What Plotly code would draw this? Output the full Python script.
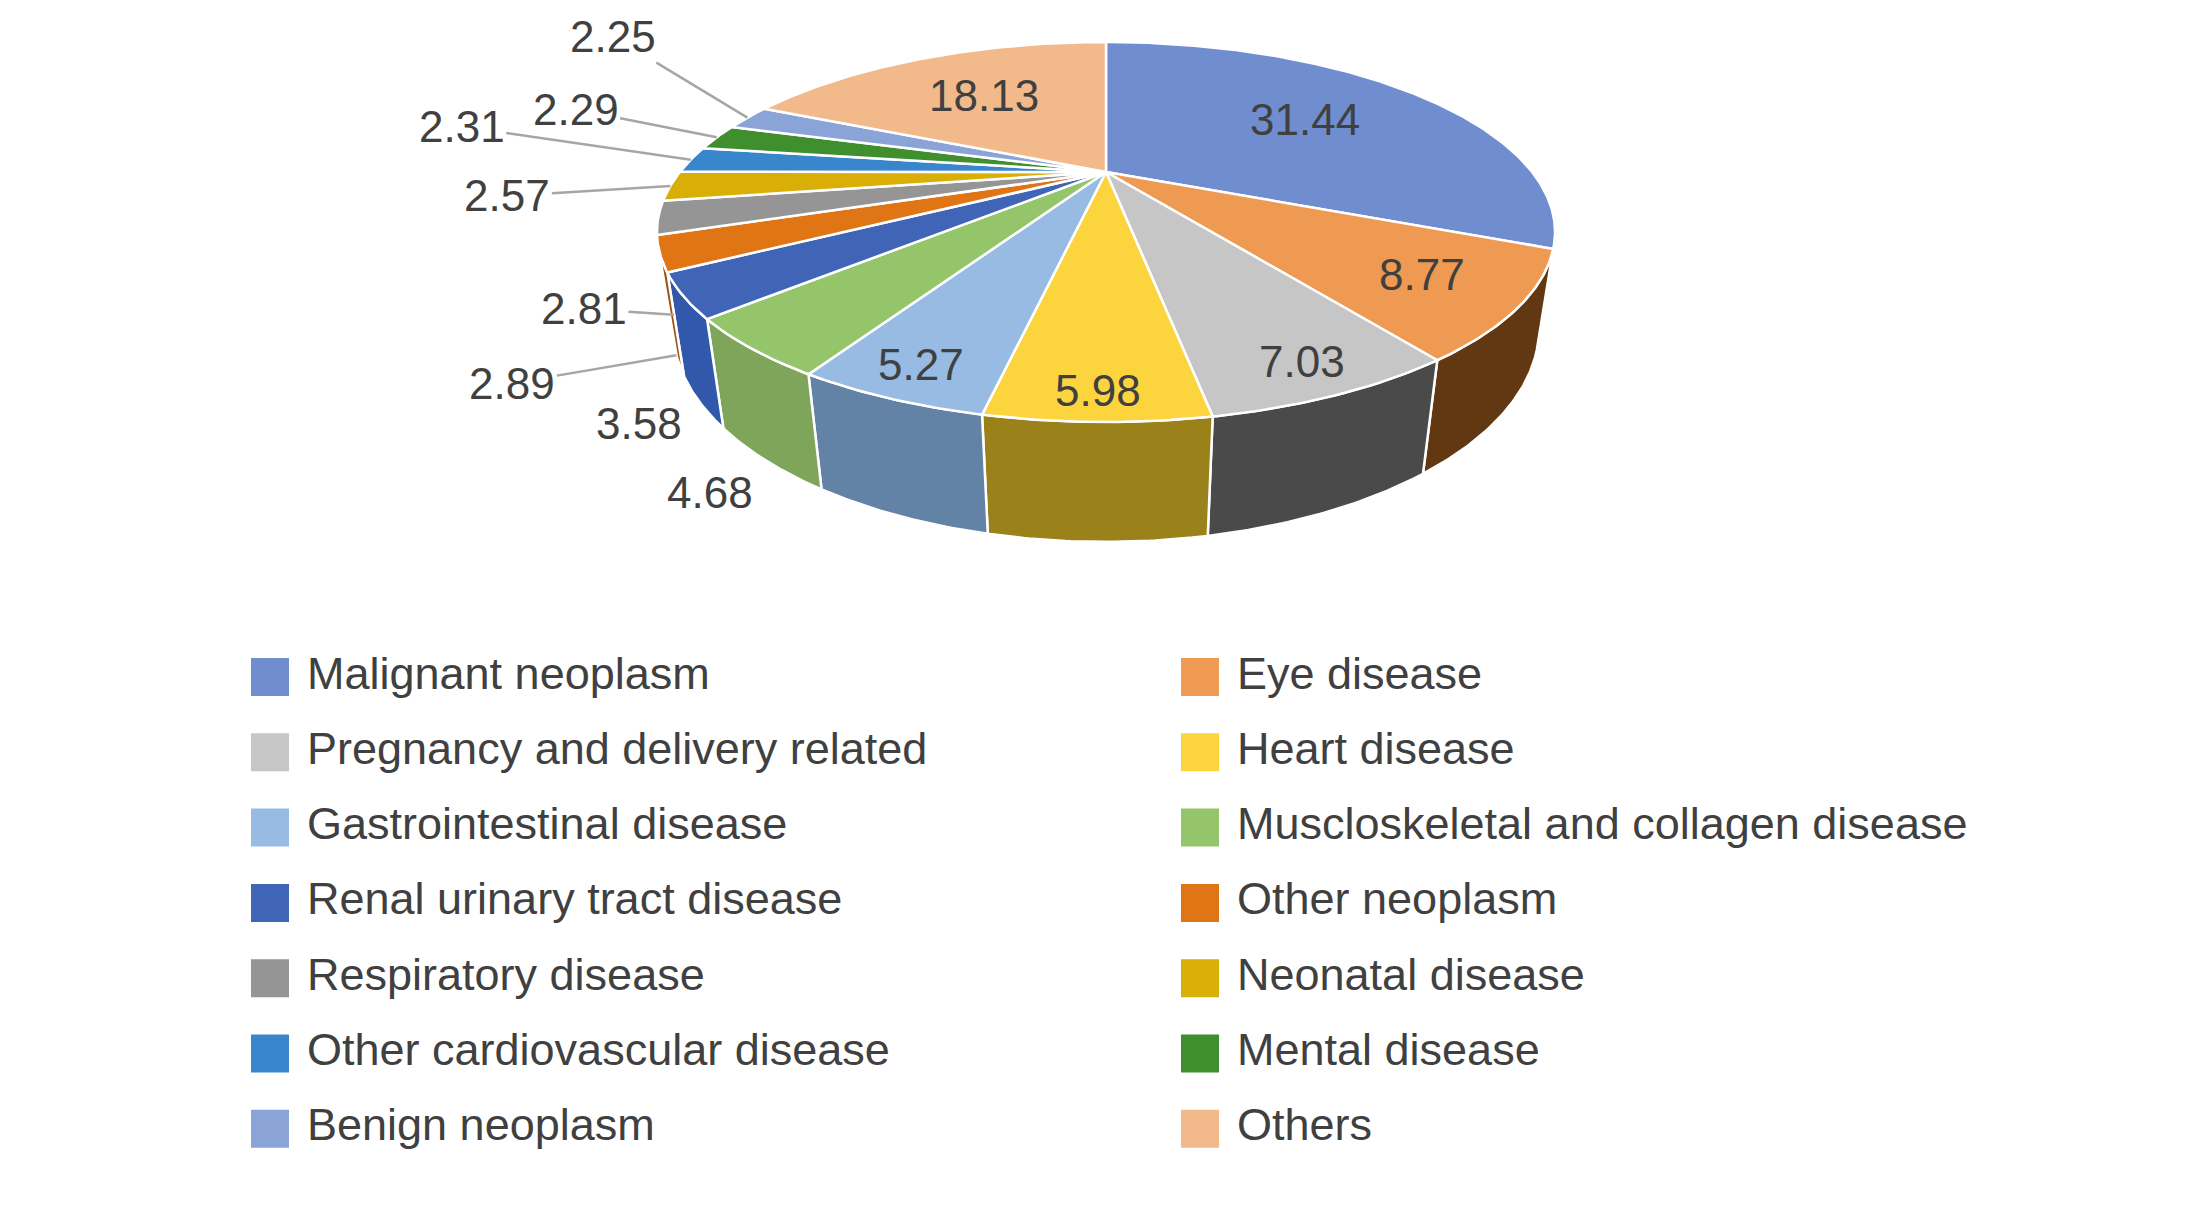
import numpy as np
import plotly.graph_objects as go

# data
categories = ["Malignant neoplasm", "Eye disease", "Pregnancy and delivery related",
              "Heart disease", "Gastrointestinal disease", "Muscloskeletal and collagen disease",
              "Renal urinary tract disease", "Other neoplasm", "Respiratory disease",
              "Neonatal disease", "Other cardiovascular disease", "Mental disease",
              "Benign neoplasm", "Others"]
values = [31.44, 8.77, 7.03, 5.98, 5.27, 4.68, 3.58, 2.89, 2.81, 2.57, 2.31, 2.29, 2.25, 18.13]

top_colors = ["#6f8dcf", "#ee9a52", "#c6c6c6", "#fbd43e", "#97bbe3", "#95c56b",
              "#4065b6", "#e07516", "#959595", "#d9ae06", "#3a86cc", "#408f2e",
              "#8ba4d8", "#f2b98a"]
side_colors = ["#2f4c85", "#623812", "#4a4a4a", "#9a8119", "#6283a6", "#7ea55a",
               "#3158aa", "#a04f0c", "#666666", "#9a7c06", "#2a5f92", "#2c6420",
               "#6276a0", "#b08560"]

# label placement: inside the top face, below the side, or with a leader line
label_mode = ["in", "in", "in", "in", "in", "below", "below", "bottom", "bottom",
              "top", "top", "top", "top", "in"]
leader_offsets = {7: (-164, 28), 8: (-90, -6), 9: (-163, 10), 10: (-229, -33),
                  11: (-141, -28), 12: (-134, -81)}

# 3-D view of the pie, in page pixels
CX, CY = 1106, 172
F = 1236
DIST = 2.901
TILT = np.radians(23.67)
DEPTH = 0.242

PAGE_PAD = 8  # the html body margin
FONT = "Liberation Sans, Arial, sans-serif"
TXT = "#404040"


def project(X, Y, Z):
    s, c = np.sin(TILT), np.cos(TILT)
    yv = Y * s + Z * c
    d = Y * c - Z * s
    w = DIST + d
    return CX + F * X / w, CY - F * yv / w


def rim(a0, a1, z, r=1.0):
    n = max(3, int(abs(a0 - a1) * 2))
    t = np.radians(np.linspace(a0, a1, n))
    return project(r * np.cos(t), r * np.sin(t), np.full(n, z))


fig = go.Figure()

total = sum(values)
spans = [360 * v / total for v in values]
starts = 90 - np.concatenate([[0], np.cumsum(spans)[:-1]])
ends = starts - np.array(spans)

# visible part of the outer wall
lim = np.degrees(np.arcsin(-1 / (DIST * np.cos(TILT))))
vis_hi, vis_lo = lim, -180 - lim

# side walls
for i in range(len(values)):
    hi = min(starts[i], vis_hi)
    lo = max(ends[i], vis_lo)
    if hi <= lo:
        continue
    tx, ty = rim(hi, lo, 0)
    bx, by = rim(lo, hi, -DEPTH)
    fig.add_trace(go.Scatter(
        x=np.concatenate([tx, bx, tx[:1]]), y=np.concatenate([ty, by, ty[:1]]),
        mode="lines", fill="toself", fillcolor=side_colors[i],
        line=dict(color="white", width=2.5), hoverinfo="skip", showlegend=False))

# top face
for i in range(len(values)):
    rx, ry = rim(starts[i], ends[i], 0)
    ax0, ay0 = project(0, 0, 0)
    fig.add_trace(go.Scatter(
        x=np.concatenate([[ax0], rx, [ax0]]), y=np.concatenate([[ay0], ry, [ay0]]),
        mode="lines", fill="toself", fillcolor=top_colors[i],
        line=dict(color="white", width=2.5), hoverinfo="skip", showlegend=False))

# value labels
for i, v in enumerate(values):
    mid = np.radians((starts[i] + ends[i]) / 2)
    mode = label_mode[i]
    txt = f"{v:.2f}"
    if mode == "in":
        r = 0.62 + 0.29 * max(0, -np.sin(mid))
        x, y = project(r * np.cos(mid), r * np.sin(mid), 0)
        fig.add_annotation(x=x, y=y, text=txt, showarrow=False,
                           font=dict(family=FONT, size=44, color=TXT))
    elif mode == "below":
        x, y = project(1.12 * np.cos(mid), 1.12 * np.sin(mid), -DEPTH)
        fig.add_annotation(x=x, y=y, text=txt, showarrow=False,
                           font=dict(family=FONT, size=44, color=TXT))
    else:
        z = 0 if mode == "top" else -DEPTH
        x, y = project(np.cos(mid), np.sin(mid), z)
        dx, dy = leader_offsets[i]
        fig.add_annotation(x=x, y=y, text=txt, showarrow=True, ax=dx, ay=dy,
                           arrowhead=0, arrowwidth=2.5, arrowcolor="#a6a6a6", standoff=0,
                           font=dict(family=FONT, size=44, color=TXT))

# legend, two columns
leg_x0, leg_dx, leg_y0, leg_dy = 270, 930, 677, 75.3
for i, name in enumerate(categories):
    col, row = i % 2, i // 2
    lx = leg_x0 + col * leg_dx
    ly = leg_y0 + row * leg_dy
    fig.add_trace(go.Scatter(
        x=[lx], y=[ly], mode="markers",
        marker=dict(symbol="square", size=38, color=top_colors[i], line=dict(width=0)),
        hoverinfo="skip", showlegend=False))
    fig.add_annotation(x=lx + 35, y=ly, yshift=4, text=name, showarrow=False,
                       xanchor="left", font=dict(family=FONT, size=45, color=TXT))

fig.update_layout(
    width=2203, height=1224,
    margin=dict(l=0, r=0, t=0, b=0),
    paper_bgcolor="white", plot_bgcolor="white",
    xaxis=dict(visible=False, range=[PAGE_PAD, 2203 + PAGE_PAD], fixedrange=True),
    yaxis=dict(visible=False, range=[1224 + PAGE_PAD, PAGE_PAD], fixedrange=True),
)

fig.write_html("out.html")
